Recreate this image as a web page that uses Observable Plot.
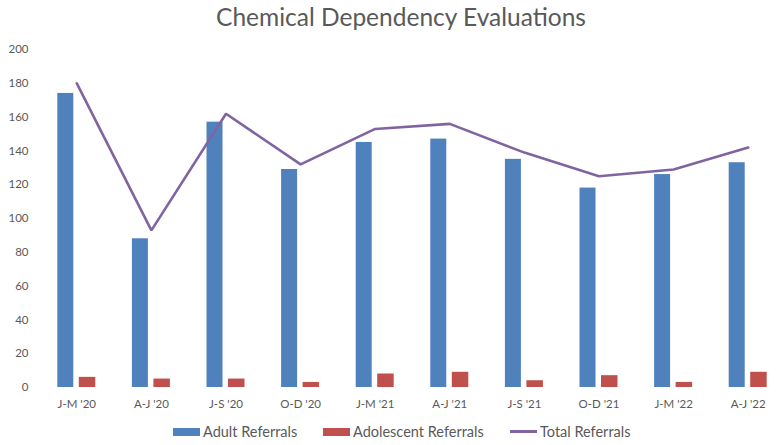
<!DOCTYPE html>
<html>
<head>
<meta charset="utf-8">
<script src="https://cdn.jsdelivr.net/npm/d3@7"></script>
<script src="https://cdn.jsdelivr.net/npm/@observablehq/plot@0.6"></script>
<style>
  body { margin: 0; background: #fff; font-family: Lato, "Open Sans", sans-serif; }
  #wrap { position: relative; width: 779px; height: 445px; overflow: hidden; }
  #title { position: absolute; left: 0; top: 2px; width: 802px; text-align: center; font-size: 24.5px; color: #595959; }
  #chart { position: absolute; left: 0; top: 40px; }
  .leg { position: absolute; top: 423px; font-size: 14.5px; color: #595959; display: flex; align-items: center; white-space: nowrap; }
  .sw { display: inline-block; width: 27px; height: 8px; margin-right: 3px; }
  .ln { display: inline-block; width: 27px; height: 3px; margin-right: 3px; }
</style>
</head>
<body>
<div id="wrap">
  <div id="title">Chemical Dependency Evaluations</div>
  <div id="chart"></div>
  <div class="leg" style="left:173px"><span class="sw" style="background:#4f81bd"></span>Adult Referrals</div>
  <div class="leg" style="left:323px"><span class="sw" style="background:#c0504d"></span>Adolescent Referrals</div>
  <div class="leg" style="left:510px"><span class="ln" style="background:#8064a2"></span>Total Referrals</div>
</div>
<script>
const quarters = ["J-M '20", "A-J '20", "J-S '20", "O-D '20", "J-M '21", "A-J '21", "J-S '21", "O-D '21", "J-M '22", "A-J '22"];
const adult = [174, 88, 157, 129, 145, 147, 135, 118, 126, 133];
const adolescent = [6, 5, 5, 3, 8, 9, 4, 7, 3, 9];
const total = [180, 93, 162, 132, 153, 156, 139, 125, 129, 142];
const yTicks = [0, 20, 40, 60, 80, 100, 120, 140, 160, 180, 200];

const rows = quarters.map((q, i) => ({q, adult: adult[i], adolescent: adolescent[i], total: total[i]}));

const plot = Plot.plot({
  width: 779,
  height: 405,
  marginTop: 9,
  marginBottom: 58,
  marginLeft: 39,
  marginRight: 0,
  style: {fontFamily: "Lato, 'Open Sans', sans-serif", fontSize: "11.5px", color: "#595959", overflow: "hidden"},
  x: {domain: quarters, range: [39, 785], padding: 0, round: false, label: null},
  y: {domain: [0, 200], label: null},
  marks: [
    Plot.ruleY(yTicks, {stroke: "#d9d9d9", strokeWidth: 1, x1: 39, x2: 779}),
    Plot.axisY(yTicks, {tickSize: 0, tickPadding: 11, label: null, fill: "#595959"}),
    Plot.axisX({tickSize: 0, tickPadding: 12, label: null, fill: "#595959"}),
    Plot.barY(rows, {x: "q", y: "adult", fill: "#4f81bd", insetLeft: 18.3, insetRight: 40.3}),
    Plot.barY(rows, {x: "q", y: "adolescent", fill: "#c0504d", insetLeft: 39.8, insetRight: 18.3}),
    Plot.line(rows, {x: "q", y: "total", stroke: "#8064a2", strokeWidth: 2.6, strokeLinejoin: "miter"})
  ]
});
document.getElementById("chart").appendChild(plot);
</script>
</body>
</html>
